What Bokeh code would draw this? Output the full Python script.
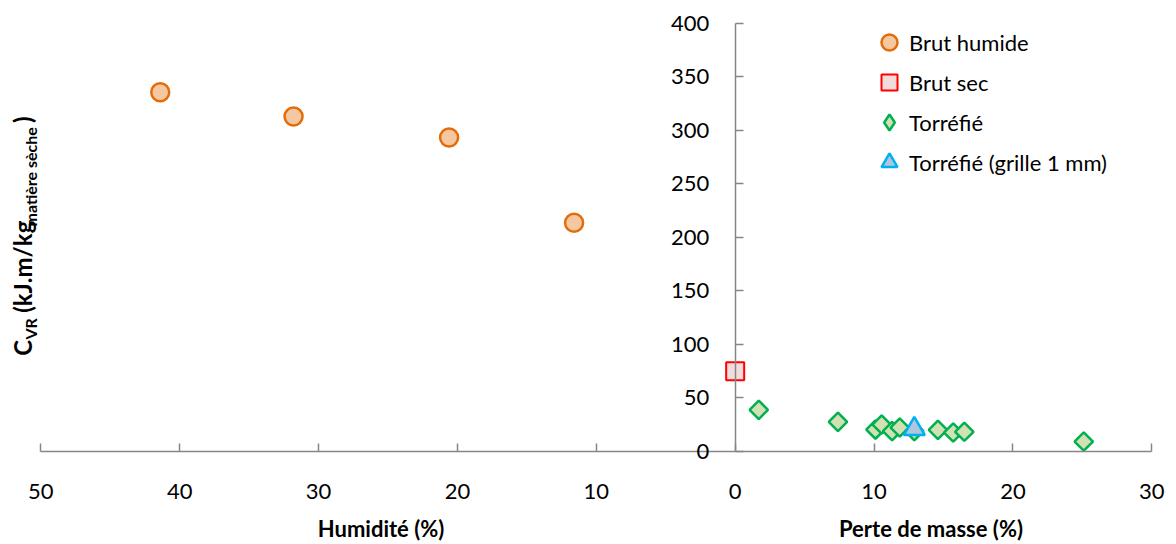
import numpy as np
from bokeh.plotting import figure
from bokeh.models import Range1d, FixedTicker, Legend, LegendItem, Label
from bokeh.embed import file_html
from bokeh.resources import INLINE

# ---- data ----
humidite = [41.4, 31.8, 20.6, 11.6]            # Brut humide, humidity (%)
cvr_brut_humide = [335.5, 312.8, 293.2, 213.7]

perte_brut_sec = [0.0]
cvr_brut_sec = [75.0]

perte_torrefie = [1.7, 7.4, 10.1, 10.55, 11.3, 11.85, 12.9, 14.6, 15.7, 16.5, 25.1]
cvr_torrefie = [38.9, 27.7, 20.5, 25.2, 19.0, 22.4, 19.0, 20.2, 17.7, 18.4, 9.3]

perte_grille = [12.9]
cvr_grille = [21.0]

series_labels = ["Brut humide", "Brut sec", "Torréfié", "Torréfié (grille 1 mm)"]

x_ticks = [-50, -40, -30, -20, -10, 0, 10, 20, 30]
x_tick_labels = ["50", "40", "30", "20", "10", "0", "10", "20", "30"]
y_ticks = [0, 50, 100, 150, 200, 250, 300, 350, 400]

FONT = "Lato"
AXIS_GREY = "#868686"

# ---- layout: the frame fills the whole canvas; axes sit at x=0 / y=0 ----
W, H = 1176, 544
ax_left_px, ax_right_px = 40.3, 1151.3      # pixel position of x = -50 and x = 30
ax_top_px, ax_bottom_px = 22.7, 451.0       # pixel position of y = 400 and y = 0
px_per_x = (ax_right_px - ax_left_px) / 80.0
px_per_y = (ax_bottom_px - ax_top_px) / 400.0
x_start = -50 - ax_left_px / px_per_x
x_end = 30 + (W - ax_right_px) / px_per_x
y_start = -(H - ax_bottom_px) / px_per_y
y_end = ax_bottom_px / px_per_y

p = figure(width=W, height=H, output_backend="svg", toolbar_location=None,
           x_range=Range1d(x_start, x_end), y_range=Range1d(y_start, y_end),
           min_border=0)
p.title.visible = False
p.outline_line_color = None
p.grid.visible = False
p.background_fill_color = "white"
p.border_fill_color = "white"

xa = p.xaxis[0]
xa.fixed_location = 0
xa.bounds = (-50, 30)
xa.ticker = FixedTicker(ticks=x_ticks)
xa.major_label_overrides = {t: s for t, s in zip(x_ticks, x_tick_labels)}
xa.axis_line_color = AXIS_GREY
xa.axis_line_width = 1.5
xa.major_tick_line_color = AXIS_GREY
xa.major_tick_line_width = 1.5
xa.major_tick_in = 8
xa.major_tick_out = 0
xa.minor_tick_line_color = None
xa.major_label_standoff = 32
xa.major_label_text_font = FONT
xa.major_label_text_font_size = "22px"
xa.major_label_text_color = "black"

ya = p.yaxis[0]
ya.fixed_location = 0
ya.bounds = (0, 400)
ya.ticker = FixedTicker(ticks=y_ticks)
ya.axis_line_color = AXIS_GREY
ya.axis_line_width = 1.5
ya.major_tick_line_color = AXIS_GREY
ya.major_tick_line_width = 1.5
ya.major_tick_in = 8
ya.major_tick_out = 0
ya.minor_tick_line_color = None
ya.major_label_standoff = 26
ya.major_label_text_font = FONT
ya.major_label_text_font_size = "22px"
ya.major_label_text_color = "black"

r1 = p.scatter(x=[-h for h in humidite], y=cvr_brut_humide, marker="circle", size=18,
               fill_color="#F6C8A2", line_color="#E46C0A", line_width=2.5)
r2 = p.scatter(x=perte_brut_sec, y=cvr_brut_sec, marker="square", size=18,
               fill_color="#F2DCDB", line_color="#FF0000", line_width=2)
r3 = p.scatter(x=perte_torrefie, y=cvr_torrefie, marker="square", angle=np.pi / 4, size=13,
               fill_color="#D2E1B4", line_color="#00B050", line_width=2.5)
r4 = p.scatter(x=perte_grille, y=cvr_grille, marker="triangle", size=21,
               fill_color="#AFC7DC", line_color="#00B0F0", line_width=2.5)
# legend proxy for the diamond (legend glyphs are drawn unrotated); NaN -> not drawn on the plot
r3_leg = p.scatter(x=[float("nan")], y=[float("nan")], marker="diamond", size=12,
                   fill_color="#D2E1B4", line_color="#00B050", line_width=2.5)

legend = Legend(items=[LegendItem(label=l, renderers=[r]) for l, r in
                       zip(series_labels, [r1, r2, r3_leg, r4])],
                location=(869, H - 22 - 160), orientation="vertical",
                glyph_width=40, glyph_height=40, spacing=0, padding=0, margin=0,
                label_standoff=0, label_text_font=FONT, label_text_font_size="22px",
                label_text_color="black",
                border_line_color=None, background_fill_alpha=0)
p.add_layout(legend)

# axis titles
for txt, xc in [("Humidité (%)", -25.5), ("Perte de masse (%)", 14.1)]:
    p.add_layout(Label(x=xc, y=H - 528, x_units="data", y_units="screen", text=txt,
                       text_align="center", text_baseline="middle", text_font=FONT,
                       text_font_style="bold", text_font_size="22px", text_color="black"))

# vertical title with subscripts: C_VR (kJ.m/kg_matière sèche)
pieces = [("C", 24, 0.675 * 24, False),
          ("VR", 16, 1.30 * 16 + 6, True),
          ("(kJ.m/kg", 24, 3.6 * 24, False),
          ("matière sèche", 16, 6.3 * 16 + 2.5, True),
          (")", 24, 0.33 * 24, False)]
total = sum(w for _, _, w, _ in pieces)
center_y = H - 235
pos = center_y - total / 2
for txt, fs, w, sub in pieces:
    p.add_layout(Label(x=30 if sub else 22, y=pos, x_units="screen", y_units="screen",
                       text=txt, angle=np.pi / 2, text_align="left",
                       text_baseline="alphabetic", text_font=FONT, text_font_style="bold",
                       text_font_size=f"{fs}px", text_color="black"))
    pos += w

open("out.html", "w").write(file_html(p, INLINE))
